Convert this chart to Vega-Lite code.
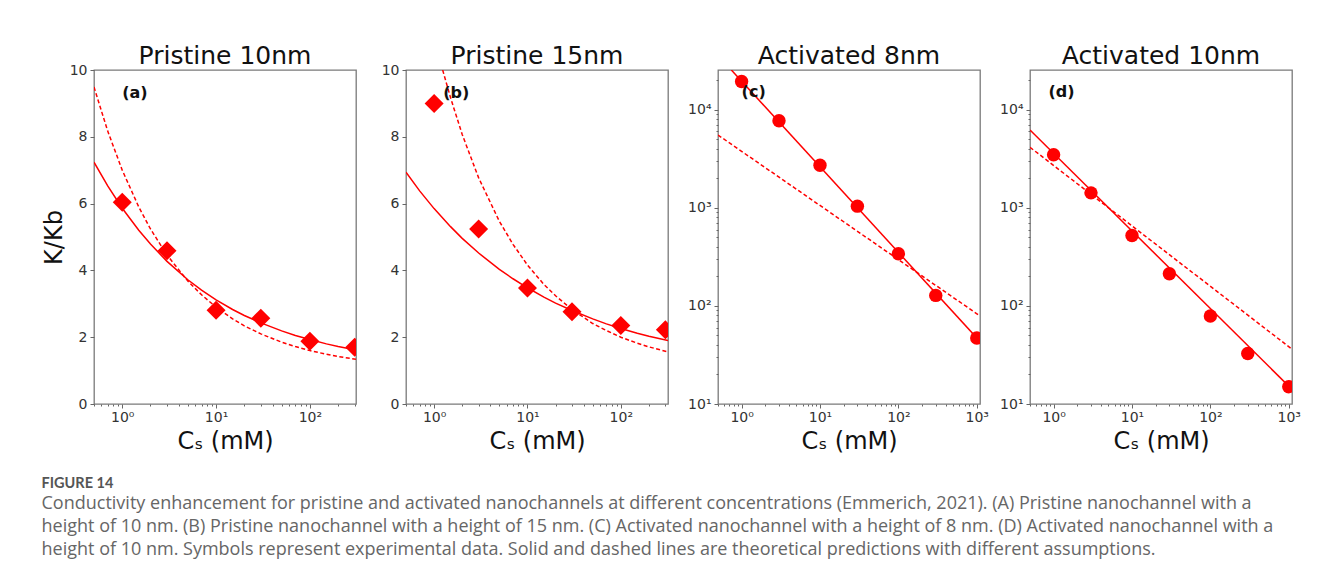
{
  "$schema": "https://vega.github.io/schema/vega-lite/v6.json",
  "background": "white",
  "padding": {"left": 41, "top": 43, "right": 20, "bottom": 30},
  "datasets": {
    "a_pts": [{"x":1,"y":6.04},{"x":3,"y":4.59},{"x":10,"y":2.81},{"x":30,"y":2.57},{"x":100,"y":1.88},{"x":300,"y":1.70}],
    "a_solid": [{"x":0.5,"y":7.24},{"x":0.7,"y":6.53},{"x":1,"y":5.86},{"x":1.5,"y":5.20},{"x":2,"y":4.79},{"x":3,"y":4.27},{"x":5,"y":3.72},{"x":7,"y":3.41},{"x":10,"y":3.12},{"x":15,"y":2.83},{"x":20,"y":2.65},{"x":30,"y":2.43},{"x":50,"y":2.19},{"x":70,"y":2.05},{"x":100,"y":1.93},{"x":150,"y":1.80},{"x":200,"y":1.72},{"x":310,"y":1.62}],
    "a_dash": [{"x":0.5,"y":9.49},{"x":0.7,"y":8.17},{"x":1,"y":7.0},{"x":1.5,"y":5.90},{"x":2,"y":5.24},{"x":3,"y":4.46},{"x":5,"y":3.68},{"x":7,"y":3.27},{"x":10,"y":2.90},{"x":15,"y":2.55},{"x":20,"y":2.34},{"x":30,"y":2.10},{"x":50,"y":1.85},{"x":70,"y":1.72},{"x":100,"y":1.60},{"x":150,"y":1.49},{"x":200,"y":1.42},{"x":310,"y":1.34}],
    "a_lab": [{"x":1,"y":9.3,"t":"(a)"}],
    "b_pts": [{"x":1,"y":9.0},{"x":3,"y":5.24},{"x":10,"y":3.47},{"x":30,"y":2.76},{"x":100,"y":2.35},{"x":300,"y":2.22}],
    "b_solid": [{"x":0.5,"y":6.94},{"x":0.7,"y":6.38},{"x":1,"y":5.85},{"x":1.5,"y":5.31},{"x":2,"y":4.96},{"x":3,"y":4.52},{"x":5,"y":4.03},{"x":7,"y":3.75},{"x":10,"y":3.48},{"x":15,"y":3.20},{"x":20,"y":3.02},{"x":30,"y":2.80},{"x":50,"y":2.55},{"x":70,"y":2.40},{"x":100,"y":2.26},{"x":150,"y":2.12},{"x":200,"y":2.03},{"x":320,"y":1.90}],
    "b_dash": [{"x":1.235,"y":10.0},{"x":1.5,"y":9.17},{"x":2,"y":8.07},{"x":3,"y":6.77},{"x":5,"y":5.47},{"x":7,"y":4.78},{"x":10,"y":4.16},{"x":15,"y":3.58},{"x":20,"y":3.24},{"x":30,"y":2.83},{"x":50,"y":2.41},{"x":70,"y":2.20},{"x":100,"y":2.00},{"x":150,"y":1.82},{"x":200,"y":1.71},{"x":320,"y":1.56}],
    "b_lab": [{"x":1.25,"y":9.3,"t":"(b)"}],
    "c_pts": [{"x":1,"y":19400},{"x":3,"y":7730},{"x":10,"y":2720},{"x":30,"y":1040},{"x":100,"y":340},{"x":300,"y":128},{"x":1000,"y":47}],
    "c_solid": [{"x":0.74,"y":25400},{"x":1100,"y":43.4}],
    "c_dash": [{"x":0.5,"y":5520},{"x":1100,"y":79}],
    "c_lab": [{"x":1.0,"y":15000,"t":"(c)"}],
    "d_pts": [{"x":1,"y":3480},{"x":3,"y":1420},{"x":10,"y":523},{"x":30,"y":213},{"x":100,"y":79},{"x":300,"y":32.7},{"x":1000,"y":15.0}],
    "d_solid": [{"x":0.5,"y":6210},{"x":1100,"y":14.1}],
    "d_dash": [{"x":0.5,"y":4140},{"x":1100,"y":36.2}],
    "d_lab": [{"x":0.86,"y":15000,"t":"(d)"}]
  },
  "config": {
    "font": "DejaVu Sans",
    "view": {"stroke": "#7a7a7a", "strokeWidth": 1.3},
    "axis": {"domain": false, "grid": false, "labelFont": "DejaVu Sans", "labelFontSize": 14, "labelColor": "#333", "tickColor": "#666", "tickWidth": 1, "tickSize": 4, "labelPadding": 3, "labelOverlap": false, "labelFlush": false, "titleFont": "DejaVu Sans", "titleFontSize": 24, "titleFontWeight": "normal", "titleColor": "#111"},
    "axisX": {"labelPadding": 2},
    "title": {"font": "DejaVu Sans", "fontSize": 25, "fontWeight": "normal", "color": "#111", "baseline": "alphabetic", "offset": 1, "frame": "group"}
  },
  "spacing": 50,
  "bounds": "flush",
  "title": {
    "text": "FIGURE 14",
    "subtitle": [
      "Conductivity enhancement for pristine and activated nanochannels at different concentrations (Emmerich, 2021). (A) Pristine nanochannel with a",
      "height of 10 nm. (B) Pristine nanochannel with a height of 15 nm. (C) Activated nanochannel with a height of 8 nm. (D) Activated nanochannel with a",
      "height of 10 nm. Symbols represent experimental data. Solid and dashed lines are theoretical predictions with different assumptions."
    ],
    "orient": "bottom", "anchor": "start", "frame": "bounds",
    "font": "Lato", "fontSize": 14.5, "fontWeight": "bold", "color": "#555", "baseline": "top", "offset": 23,
    "subtitleFont": "Open Sans", "subtitleFontSize": 18, "subtitleColor": "#666", "subtitleLineHeight": 23, "subtitlePadding": 4
  },
  "hconcat": [
    {
      "width": 262, "height": 334, "title": {"text": "Pristine 10nm", "offset": -6},
      "encoding": {
        "x": {"field": "x", "type": "quantitative", "scale": {"type": "log", "domain": [0.5, 310], "nice": false},
              "axis": {"title": "Cₛ (mM)", "titlePadding": 5, "values": [0.5,0.6,0.7,0.8,0.9,1,2,3,4,5,6,7,8,9,10,20,30,40,50,60,70,80,90,100,200,300],
                       "labelExpr": "datum.value === 1 ? '10⁰' : datum.value === 10 ? '10¹' : datum.value === 100 ? '10²' : datum.value === 1000 ? '10³' : ''",
                       "tickSize": {"condition": {"test": "indexof([1,10,100,1000], datum.value) >= 0", "value": 4}, "value": 2}}},
        "y": {"field": "y", "type": "quantitative", "scale": {"domain": [0, 10], "nice": false},
              "axis": {"title": "K/Kb", "titlePadding": 3, "values": [0,2,4,6,8,10], "format": "d"}}
      },
      "layer": [
        {"data": {"name": "a_solid"}, "mark": {"type": "line", "color": "#ff0000", "strokeWidth": 1.5, "clip": true}},
        {"data": {"name": "a_dash"}, "mark": {"type": "line", "color": "#ff0000", "strokeWidth": 1.5, "strokeDash": [4, 2.5], "clip": true}},
        {"data": {"name": "a_pts"}, "mark": {"type": "point", "shape": "diamond", "filled": true, "color": "#ff0000", "opacity": 1, "size": 361, "clip": true}},
        {"data": {"name": "a_lab"}, "mark": {"type": "text", "align": "left", "baseline": "middle", "fontSize": 16, "fontWeight": "bold", "color": "#111", "font": "DejaVu Sans"}, "encoding": {"text": {"field": "t"}}}
      ]
    },
    {
      "width": 262, "height": 334, "title": {"text": "Pristine 15nm", "offset": -6},
      "encoding": {
        "x": {"field": "x", "type": "quantitative", "scale": {"type": "log", "domain": [0.5, 320], "nice": false},
              "axis": {"title": "Cₛ (mM)", "titlePadding": 5, "values": [0.5,0.6,0.7,0.8,0.9,1,2,3,4,5,6,7,8,9,10,20,30,40,50,60,70,80,90,100,200,300],
                       "labelExpr": "datum.value === 1 ? '10⁰' : datum.value === 10 ? '10¹' : datum.value === 100 ? '10²' : datum.value === 1000 ? '10³' : ''",
                       "tickSize": {"condition": {"test": "indexof([1,10,100,1000], datum.value) >= 0", "value": 4}, "value": 2}}},
        "y": {"field": "y", "type": "quantitative", "scale": {"domain": [0, 10], "nice": false},
              "axis": {"title": null, "values": [0,2,4,6,8,10], "format": "d"}}
      },
      "layer": [
        {"data": {"name": "b_solid"}, "mark": {"type": "line", "color": "#ff0000", "strokeWidth": 1.5, "clip": true}},
        {"data": {"name": "b_dash"}, "mark": {"type": "line", "color": "#ff0000", "strokeWidth": 1.5, "strokeDash": [4, 2.5], "clip": true}},
        {"data": {"name": "b_pts"}, "mark": {"type": "point", "shape": "diamond", "filled": true, "color": "#ff0000", "opacity": 1, "size": 361, "clip": true}},
        {"data": {"name": "b_lab"}, "mark": {"type": "text", "align": "left", "baseline": "middle", "fontSize": 16, "fontWeight": "bold", "color": "#111", "font": "DejaVu Sans"}, "encoding": {"text": {"field": "t"}}}
      ]
    },
    {
      "width": 262, "height": 334, "title": "Activated 8nm",
      "encoding": {
        "x": {"field": "x", "type": "quantitative", "scale": {"type": "log", "domain": [0.5, 1100], "nice": false},
              "axis": {"title": "Cₛ (mM)", "titlePadding": 5, "values": [0.5,0.6,0.7,0.8,0.9,1,2,3,4,5,6,7,8,9,10,20,30,40,50,60,70,80,90,100,200,300,400,500,600,700,800,900,1000],
                       "labelExpr": "datum.value === 1 ? '10⁰' : datum.value === 10 ? '10¹' : datum.value === 100 ? '10²' : datum.value === 1000 ? '10³' : ''",
                       "tickSize": {"condition": {"test": "indexof([1,10,100,1000], datum.value) >= 0", "value": 4}, "value": 2}}},
        "y": {"field": "y", "type": "quantitative", "scale": {"type": "log", "domain": [10, 25400], "nice": false},
              "axis": {"title": null, "values": [10,20,30,40,50,60,70,80,90,100,200,300,400,500,600,700,800,900,1000,2000,3000,4000,5000,6000,7000,8000,9000,10000,20000],
                       "labelExpr": "datum.value === 10 ? '10¹' : datum.value === 100 ? '10²' : datum.value === 1000 ? '10³' : datum.value === 10000 ? '10⁴' : ''",
                       "tickSize": {"condition": {"test": "indexof([10,100,1000,10000], datum.value) >= 0", "value": 4}, "value": 2}}}
      },
      "layer": [
        {"data": {"name": "c_solid"}, "mark": {"type": "line", "color": "#ff0000", "strokeWidth": 1.5, "clip": true}},
        {"data": {"name": "c_dash"}, "mark": {"type": "line", "color": "#ff0000", "strokeWidth": 1.5, "strokeDash": [4, 2.5], "clip": true}},
        {"data": {"name": "c_pts"}, "mark": {"type": "circle", "color": "#ff0000", "opacity": 1, "size": 180, "clip": true}},
        {"data": {"name": "c_lab"}, "mark": {"type": "text", "align": "left", "baseline": "middle", "fontSize": 16, "fontWeight": "bold", "color": "#111", "font": "DejaVu Sans"}, "encoding": {"text": {"field": "t"}}}
      ]
    },
    {
      "width": 262, "height": 334, "title": "Activated 10nm",
      "encoding": {
        "x": {"field": "x", "type": "quantitative", "scale": {"type": "log", "domain": [0.5, 1100], "nice": false},
              "axis": {"title": "Cₛ (mM)", "titlePadding": 5, "values": [0.5,0.6,0.7,0.8,0.9,1,2,3,4,5,6,7,8,9,10,20,30,40,50,60,70,80,90,100,200,300,400,500,600,700,800,900,1000],
                       "labelExpr": "datum.value === 1 ? '10⁰' : datum.value === 10 ? '10¹' : datum.value === 100 ? '10²' : datum.value === 1000 ? '10³' : ''",
                       "tickSize": {"condition": {"test": "indexof([1,10,100,1000], datum.value) >= 0", "value": 4}, "value": 2}}},
        "y": {"field": "y", "type": "quantitative", "scale": {"type": "log", "domain": [10, 25400], "nice": false},
              "axis": {"title": null, "values": [10,20,30,40,50,60,70,80,90,100,200,300,400,500,600,700,800,900,1000,2000,3000,4000,5000,6000,7000,8000,9000,10000,20000],
                       "labelExpr": "datum.value === 10 ? '10¹' : datum.value === 100 ? '10²' : datum.value === 1000 ? '10³' : datum.value === 10000 ? '10⁴' : ''",
                       "tickSize": {"condition": {"test": "indexof([10,100,1000,10000], datum.value) >= 0", "value": 4}, "value": 2}}}
      },
      "layer": [
        {"data": {"name": "d_solid"}, "mark": {"type": "line", "color": "#ff0000", "strokeWidth": 1.5, "clip": true}},
        {"data": {"name": "d_dash"}, "mark": {"type": "line", "color": "#ff0000", "strokeWidth": 1.5, "strokeDash": [4, 2.5], "clip": true}},
        {"data": {"name": "d_pts"}, "mark": {"type": "circle", "color": "#ff0000", "opacity": 1, "size": 180, "clip": true}},
        {"data": {"name": "d_lab"}, "mark": {"type": "text", "align": "left", "baseline": "middle", "fontSize": 16, "fontWeight": "bold", "color": "#111", "font": "DejaVu Sans"}, "encoding": {"text": {"field": "t"}}}
      ]
    }
  ]
}
